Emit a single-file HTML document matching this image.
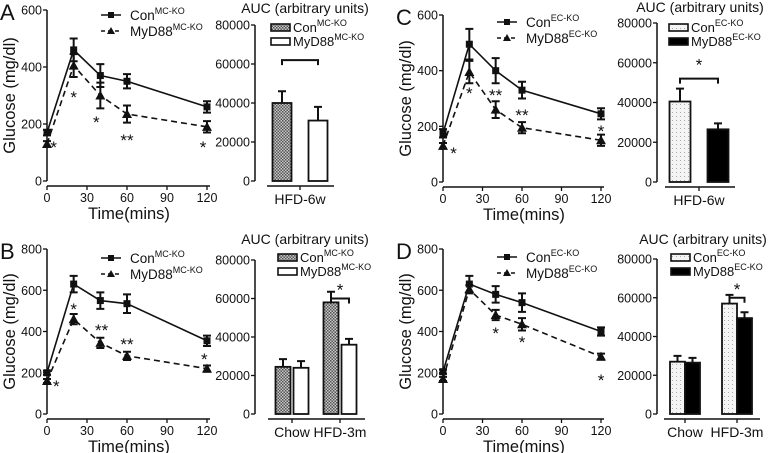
<!DOCTYPE html>
<html><head><meta charset="utf-8"><style>
html,body{margin:0;padding:0;background:#fff;}
svg{display:block;font-family:"Liberation Sans",Arial,sans-serif;}
</style></head><body>
<svg id="fig" width="768" height="453" viewBox="0 0 768 453" xmlns="http://www.w3.org/2000/svg">
<defs>
<pattern id="hatch" width="3" height="3" patternUnits="userSpaceOnUse"><rect width="3" height="3" fill="#c8c8c8"/><rect width="1.5" height="1.5" fill="#555"/><rect x="1.5" y="1.5" width="1.5" height="1.5" fill="#555"/></pattern>
<pattern id="dots" width="4" height="4" patternUnits="userSpaceOnUse"><rect width="4" height="4" fill="#f4f4f4"/><rect width="1" height="1" fill="#aaa"/></pattern>
</defs>
</svg>
<script>
// ---- data ----
const times = [0, 20, 40, 60, 120];
const xTicks = [0, 30, 60, 90, 120];
const conA = [170, 460, 370, 350, 260];
const conAErr = [10, 40, 40, 25, 20];
const myA = [130, 405, 300, 235, 190];
const myAErr = [10, 40, 45, 30, 20];
const conB = [200, 630, 550, 535, 355];
const conBErr = [10, 40, 40, 45, 25];
const myB = [160, 460, 345, 282, 220];
const myBErr = [10, 25, 25, 20, 15];
const conC = [175, 495, 400, 330, 245];
const conCErr = [15, 55, 45, 30, 20];
const myC = [130, 395, 260, 195, 150];
const myCErr = [10, 40, 30, 20, 20];
const conD = [205, 630, 580, 540, 400];
const conDErr = [10, 40, 40, 45, 20];
const myD = [170, 605, 480, 435, 278];
const myDErr = [10, 20, 25, 30, 15];
const yTicks600 = [0, 200, 400, 600];
const yTicks800 = [0, 200, 400, 600, 800];
const aucTicks = [0, 20000, 40000, 60000, 80000];
const aucCatsA = ["HFD-6w"];
const aucConA = [40000]; const aucConAErr = [6000];
const aucMyA = [31000]; const aucMyAErr = [7000];
const aucCatsB = ["Chow", "HFD-3m"];
const aucConB = [24500, 58000]; const aucConBErr = [4000, 5500];
const aucMyB = [24000, 36000]; const aucMyBErr = [3500, 3000];
const aucConC = [40500]; const aucConCErr = [6500];
const aucMyC = [26500]; const aucMyCErr = [3000];
const aucConD = [27000, 57000]; const aucConDErr = [3000, 4500];
const aucMyD = [26500, 49500]; const aucMyDErr = [2500, 3000];
const starsA = [[5,130,"*"],[20,305,"*"],[37,218,"*"],[60,155,"**"],[117,130,"*"]];
const starsB = [[7,150,"*"],[20,523,"*"],[41,422,"**"],[60,354,"**"],[118,281,"*"]];
const starsC = [[8,115,"*"],[20,330,"*"],[40,323,"**"],[60,251,"**"],[120,194,"*"]];
const starsD = [[40,407,"*"],[60,364,"*"],[120,179,"*"]];

const svg = document.getElementById('fig');
const NS = "http://www.w3.org/2000/svg";
function el(tag, attrs, parent) {
  const e = document.createElementNS(NS, tag);
  for (const k in attrs) e.setAttribute(k, attrs[k]);
  (parent || svg).appendChild(e);
  return e;
}
function txt(x, y, s, size, anchor, parent) {
  const t = el('text', {x: x, y: y, 'font-size': size, 'text-anchor': anchor || 'start', fill: '#111'}, parent);
  t.textContent = s;
  return t;
}

function lineChart(cfg) {
  const g = el('g', {});
  
  
  const X = t => cfg.x0 + (t / 120) * (cfg.x1 - cfg.x0);
  const Y = v => cfg.y0 - (v / cfg.yMax) * (cfg.y0 - cfg.yTop);
  // panel letter
  const L = txt(cfg.x0 - 47, cfg.yTop + 10, cfg.id, 22, 'start', g);
  
  
  // y axis
  const ya = el('line', {x1: cfg.x0, y1: cfg.yTop, x2: cfg.x0, y2: cfg.y0, stroke: '#111', 'stroke-width': 1.5}, g);
  
  
  cfg.yTicks.forEach(v => {
    el('line', {x1: cfg.x0 - 4, y1: Y(v), x2: cfg.x0, y2: Y(v), stroke: '#111', 'stroke-width': 1.3}, g);
    const t = txt(cfg.x0 - 5, Y(v) + 4.5, String(v), 12.5, 'end', g);
    
    
  });
  const xb = cfg.y0 + 5;
  const xa = el('line', {x1: cfg.x0, y1: xb, x2: cfg.x1 + 3, y2: xb, stroke: '#111', 'stroke-width': 1.5}, g);
  
  
  xTicks.forEach(t => {
    el('line', {x1: X(t), y1: xb, x2: X(t), y2: xb + 4, stroke: '#111', 'stroke-width': 1.3}, g);
    const l = txt(X(t), xb + 16, String(t), 12.5, 'middle', g);
    
    
  });
  const xt = txt((cfg.x0 + cfg.x1) / 2 + 2, xb + 33, 'Time(mins)', 16.5, 'middle', g);
  
  
  const yt = txt(0, 0, 'Glucose (mg/dl)', 16.5, 'middle', g);
  yt.setAttribute('transform', `translate(${cfg.x0 - 32},${(cfg.yTop + cfg.y0) / 2}) rotate(-90)`);
  
  
  // series
  const series = [[cfg.con, cfg.conErr, 'none', 'sq', 'con'], [cfg.my, cfg.myErr, '6,4', 'tri', 'myd88']];
  series.forEach(([vals, errs, dash, mk, nm]) => {
    const p = el('polyline', {points: times.map((t, i) => X(t) + ',' + Y(vals[i])).join(' '), fill: 'none', stroke: '#111', 'stroke-width': 1.6, 'stroke-dasharray': dash}, g);
    
    
    times.forEach((t, i) => {
      const x = X(t), y1 = Y(vals[i] - errs[i]), y2 = Y(vals[i] + errs[i]);
      const eb = el('path', {d: `M${x},${y1}V${y2}M${x - 4},${y1}H${x + 4}M${x - 4},${y2}H${x + 4}`, stroke: '#111', 'stroke-width': 2, fill: 'none'}, g);
      
      
      const y = Y(vals[i]);
      let m;
      if (mk === 'sq') m = el('rect', {x: x - 3.5, y: y - 3.5, width: 7, height: 7, fill: '#111'}, g);
      else m = el('path', {d: `M${x},${y - 5}L${x + 5},${y + 4}L${x - 5},${y + 4}Z`, fill: '#111'}, g);
      
      
    });
  });
  cfg.stars.forEach(([t, v, s]) => {
    const st = txt(X(t), Y(v) + 9, s, 17, 'middle', g);
    
    
  });
  // legend
  const lx = cfg.legX, ly = cfg.legY;
  [['Con', 'none', 'sq', 0], ['MyD88', '4,3', 'tri', 16]].forEach(([n, dash, mk, dy]) => {
    const lg = el('g', {}, g);
    
    
    el('line', {x1: lx, y1: ly + dy, x2: lx + 20, y2: ly + dy, stroke: '#111', 'stroke-width': 1.6, 'stroke-dasharray': dash}, lg);
    if (mk === 'sq') el('rect', {x: lx + 7, y: ly + dy - 3, width: 6, height: 6, fill: '#111'}, lg);
    else el('path', {d: `M${lx + 10},${ly + dy - 4}L${lx + 14},${ly + dy + 3}L${lx + 6},${ly + dy + 3}Z`, fill: '#111'}, lg);
    const t = txt(lx + 29, ly + dy + 5, n, 13.5, 'start', lg);
    const sp = document.createElementNS(NS, 'tspan');
    sp.setAttribute('font-size', 9); sp.setAttribute('dy', -6);
    sp.textContent = cfg.sup;
    t.appendChild(sp);
  });
}

function aucChart(cfg) {
  const g = el('g', {});
  
  
  const Y = v => cfg.y0 - (v / 80000) * (cfg.y0 - cfg.yTop);
  const tt = txt(cfg.titleX, cfg.titleY, 'AUC (arbitrary units)', 14, 'middle', g);
  
  
  el('line', {x1: cfg.ax, y1: cfg.yTop, x2: cfg.ax, y2: cfg.y0, stroke: '#111', 'stroke-width': 1.5}, g);
  aucTicks.forEach(v => {
    el('line', {x1: cfg.ax - 4, y1: Y(v), x2: cfg.ax, y2: Y(v), stroke: '#111', 'stroke-width': 1.3}, g);
    const t = txt(cfg.ax - 5, Y(v) + 4.5, String(v), 12.5, 'end', g);
    
    
  });
  const xb = cfg.y0 + 5;
  el('line', {x1: cfg.xa0, y1: xb, x2: cfg.xa1, y2: xb, stroke: '#111', 'stroke-width': 1.5}, g);
  cfg.cats.forEach((c, i) => {
    const cx = cfg.catX[i];
    el('line', {x1: cx, y1: xb, x2: cx, y2: xb + 4, stroke: '#111', 'stroke-width': 1.3}, g);
    const l = txt(cx, xb + 18, c, 14, 'middle', g);
    
    
    [[cfg.con, cfg.conErr, cfg.conFill, -1], [cfg.my, cfg.myErr, cfg.myFill, 1]].forEach(([vals, errs, fill, side]) => {
      const bx = side < 0 ? cx - cfg.gap / 2 - cfg.bw : cx + cfg.gap / 2;
      const top = Y(vals[i]);
      const r = el('rect', {x: bx, y: top, width: cfg.bw, height: cfg.y0 - top, fill: fill, stroke: '#111', 'stroke-width': 1.8}, g);
      
      
      const mx = bx + cfg.bw / 2, et = Y(vals[i] + errs[i]);
      el('path', {d: `M${mx},${top}V${et}M${mx - 4},${et}H${mx + 4}`, stroke: '#111', 'stroke-width': 2, fill: 'none'}, g);
    });
  });
  if (cfg.bracket) {
    const [i, v, star] = cfg.bracket;
    const cx = cfg.catX[i];
    const x1 = cx - cfg.gap / 2 - cfg.bw / 2, x2 = cx + cfg.gap / 2 + cfg.bw / 2, y = Y(v);
    const b = el('path', {d: `M${x1},${y + 5}V${y}H${x2}V${y + 5}`, stroke: '#111', 'stroke-width': 2, fill: 'none'}, g);
    
    
    if (star) txt((x1 + x2) / 2, y - cfg.starUp, '*', 17, 'middle', g);
  }
  const lx = cfg.legX, ly = cfg.legY;
  [['Con', cfg.conFill, 0], ['MyD88', cfg.myFill, 14]].forEach(([n, fill, dy]) => {
    const lg = el('g', {}, g);
    
    
    el('rect', {x: lx, y: ly + dy, width: 19, height: 7, fill: fill, stroke: '#111', 'stroke-width': 1.6}, lg);
    const t = txt(lx + 22, ly + dy + 8, n, 13, 'start', lg);
    const sp = document.createElementNS(NS, 'tspan');
    sp.setAttribute('font-size', 9); sp.setAttribute('dy', -6);
    sp.textContent = cfg.sup;
    t.appendChild(sp);
  });
}

lineChart({id:'A', x0:47, x1:207, yTop:10, y0:181, yMax:600, yTicks:yTicks600, con:conA, conErr:conAErr, my:myA, myErr:myAErr, stars:starsA, legX:101, legY:15, sup:'MC-KO'});
lineChart({id:'B', x0:47, x1:207, yTop:249, y0:414, yMax:800, yTicks:yTicks800, con:conB, conErr:conBErr, my:myB, myErr:myBErr, stars:starsB, legX:101, legY:258, sup:'MC-KO'});
lineChart({id:'C', x0:443, x1:601, yTop:15, y0:182, yMax:600, yTicks:yTicks600, con:conC, conErr:conCErr, my:myC, myErr:myCErr, stars:starsC, legX:497, legY:22, sup:'EC-KO'});
lineChart({id:'D', x0:443, x1:601, yTop:249, y0:414, yMax:800, yTicks:yTicks800, con:conD, conErr:conDErr, my:myD, myErr:myDErr, stars:starsD, legX:497, legY:257, sup:'EC-KO'});

aucChart({id:'A', ax:255, yTop:25, y0:181, titleX:305, titleY:13, xa0:267, xa1:334, cats:aucCatsA, catX:[300], bw:19, gap:17, con:aucConA, conErr:aucConAErr, my:aucMyA, myErr:aucMyAErr, conFill:'url(#hatch)', myFill:'#fff', bracket:[0,62000,false], starUp:4, legX:271, legY:24, sup:'MC-KO'});
aucChart({id:'B', ax:255, yTop:260, y0:414, titleX:305, titleY:244, xa0:268, xa1:365, cats:aucCatsB, catX:[292, 340], bw:15, gap:3, con:aucConB, conErr:aucConBErr, my:aucMyB, myErr:aucMyBErr, conFill:'url(#hatch)', myFill:'#fff', bracket:[1,60000,true], starUp:3, legX:278, legY:254, sup:'MC-KO'});
aucChart({id:'C', ax:657, yTop:23, y0:182, titleX:700, titleY:12, xa0:665, xa1:735, cats:aucCatsA, catX:[699], bw:21, gap:17, con:aucConC, conErr:aucConCErr, my:aucMyC, myErr:aucMyCErr, conFill:'url(#dots)', myFill:'#000', bracket:[0,52000,true], starUp:8, legX:669, legY:24, sup:'EC-KO'});
aucChart({id:'D', ax:657, yTop:259, y0:414, titleX:703, titleY:244, xa0:664, xa1:760, cats:aucCatsB, catX:[685, 737], bw:15, gap:0, con:aucConD, conErr:aucConDErr, my:aucMyD, myErr:aucMyDErr, conFill:'url(#dots)', myFill:'#000', bracket:[1,60000,true], starUp:3, legX:671, legY:254, sup:'EC-KO'});
</script>
</body></html>
